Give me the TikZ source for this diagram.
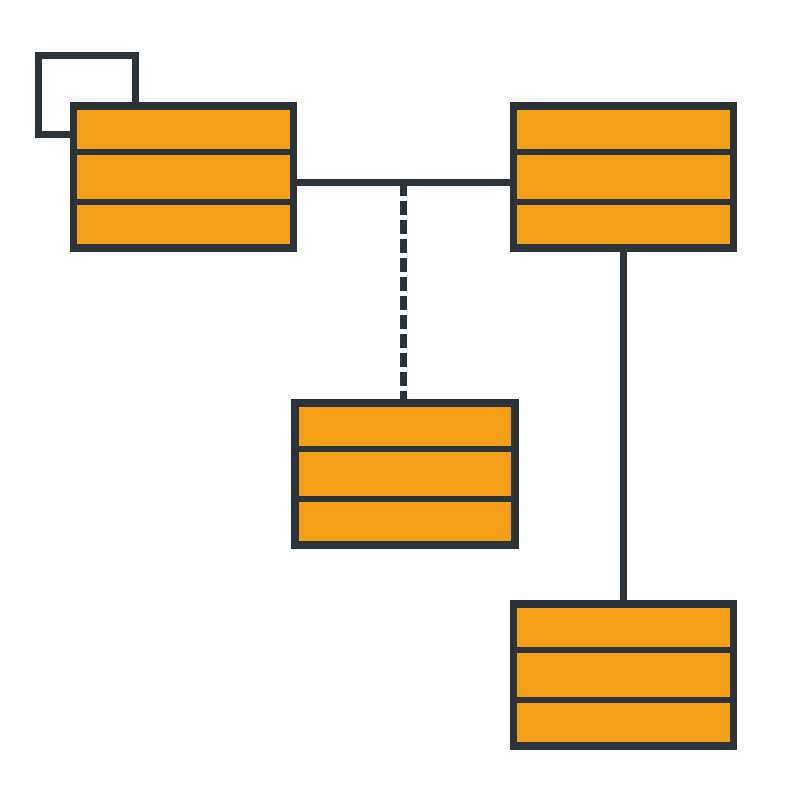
\documentclass[tikz,border=0pt]{standalone}
\usetikzlibrary{calc}

\definecolor{boxorange}{RGB}{243,160,24}
\definecolor{boxline}{RGB}{44,52,58}

\tikzset{every picture/.style={line width=0.75pt}}
\tikzset{
  classbox/.style={draw=boxline, fill=boxorange, line width=7.5pt, minimum width=220pt, minimum height=142pt, inner sep=0pt},
  link/.style={draw=boxline, line width=7pt},
  dashlink/.style={link, dash pattern=on 14pt off 5pt}
}

\begin{document}
\begin{tikzpicture}[x=1pt,y=1pt,yscale=-1,xscale=1]
\useasboundingbox (0,0) rectangle (800,800);

%Shape: class boxes
\node [classbox] (user) at (183.5,177) {};
\node [classbox] (order) at (623.5,177) {};
\node [classbox] (detail) at (405,474) {};
\node [classbox] (item) at (623.5,675) {};

%Straight Lines: compartments
\foreach \n in {user,order,detail,item}{
  \draw [boxline, line width=6pt] ($(\n.north west)!1/3!(\n.south west)$) -- ($(\n.north east)!1/3!(\n.south east)$);
  \draw [boxline, line width=6pt] ($(\n.north west)!2/3!(\n.south west)$) -- ($(\n.north east)!2/3!(\n.south east)$);
}

%Straight Lines: self loop
\draw [link] ([yshift=32pt]user.north west) -- ++(-31,0) -- ++(0,-79) -- ++(97,0) -- ([xshift=66pt]user.north west);

%Straight Lines: association
\draw [link] ([yshift=5pt]user.east) -- ([yshift=5pt]order.west);
\coordinate (junction) at ($([yshift=5pt]user.east)!0.5!([yshift=5pt]order.west)$);
\draw [dashlink] (junction) -- (junction |- detail.north);

%Straight Lines: vertical link
\draw [link] (order.south) -- (item.north);

\end{tikzpicture}
\end{document}
